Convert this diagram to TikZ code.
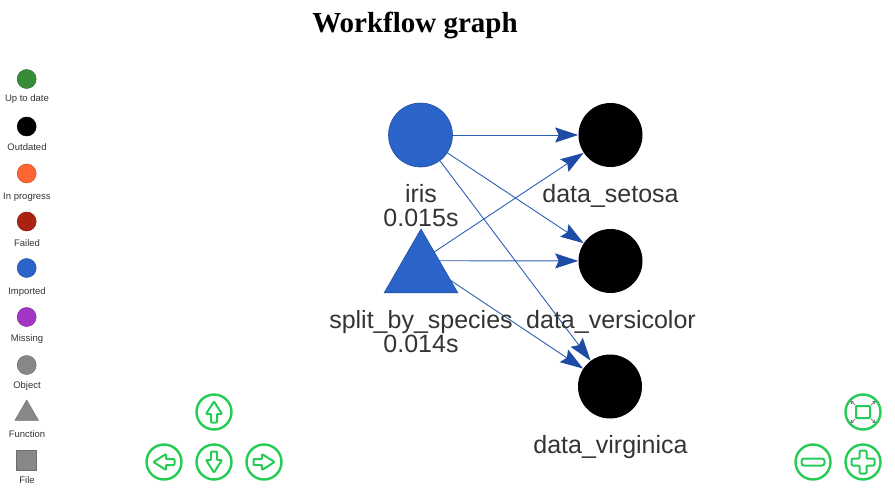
\documentclass[tikz,border=0pt]{standalone}
\usepackage{fontspec}
\setmainfont{Liberation Sans}
\newfontfamily\titlefont{Liberation Serif}
\usetikzlibrary{arrows.meta,shapes.geometric,backgrounds}
\definecolor{uptodate}{RGB}{55,140,55}
\definecolor{outdated}{RGB}{0,0,0}
\definecolor{inprog}{RGB}{255,102,51}
\definecolor{failed}{RGB}{170,34,17}
\definecolor{impblue}{RGB}{42,100,200}
\definecolor{missing}{RGB}{163,53,196}
\definecolor{objgray}{RGB}{136,136,136}
\definecolor{edgeblue}{RGB}{45,95,180}
\definecolor{headblue}{RGB}{30,75,165}
\definecolor{txt}{RGB}{52,52,52}
\definecolor{navgreen}{RGB}{36,204,84}
\definecolor{iconrgray}{RGB}{120,120,120}
\newcommand\navarrowicon[3]{%
  \draw[navline, shift={(#1,#2)}, rotate=#3]
    (0,-10.5) -- (8,2) -- (3,2) -- (3,10.5) -- (-3,10.5) -- (-3,2) -- (-8,2) -- cycle;}
\begin{document}
\begin{tikzpicture}[x=1pt,y=-1pt,
  obj/.style={circle, minimum size=64pt, inner sep=0pt, line width=0.6pt},
  lbl/.style={anchor=base, text=txt, font=\fontsize{25}{28}\selectfont, inner sep=0pt},
  legc/.style={circle, minimum size=19pt, inner sep=0pt, line width=0.5pt},
  legt/.style={anchor=base, text=txt, font=\fontsize{9.5}{11}\selectfont, inner sep=0pt},
  edge/.style={draw=edgeblue, line width=0.9pt,
    -{Stealth[length=23pt, width=15pt, inset=3.5pt, color=headblue, fill=headblue]}},
  navbtn/.style={circle, draw=navgreen, line width=2.4pt, minimum size=35pt, inner sep=0pt},
  navline/.style={draw=navgreen, line width=2pt, line join=round, rounded corners=0.8pt},
]
\useasboundingbox (0,0) rectangle (895,493);

% title
\node[anchor=base, inner sep=0pt, font=\titlefont\bfseries\fontsize{29}{33}\selectfont] (title) at (415,32) {Workflow graph};

% legend
\foreach \i/\y/\b/\c/\t in {1/79/101/uptodate/Up to date, 2/126.5/150/outdated/Outdated,
    3/173.5/199/inprog/In progress, 4/221.5/246/failed/Failed, 5/268/294/impblue/Imported,
    6/317/341/missing/Missing, 7/365/388/objgray/Object} {
  \node[legc, fill=\c, draw=\c!80!black] (leg\i) at (26.7,\y) {};
  \node[legt] (legt\i) at (27,\b) {\t};
}
\node[regular polygon, regular polygon sides=3, minimum size=27pt, inner sep=0pt,
      fill=objgray, draw=objgray!80!black, line width=0.5pt] (leg8) at (26.7,413.5) {};
\node[legt] (legt8) at (27,437) {Function};
\node[rectangle, minimum size=20pt, inner sep=0pt, fill=objgray, draw=objgray!80!black,
      line width=0.5pt] (leg9) at (26.3,460) {};
\node[legt] (legt9) at (27,483) {File};

% graph nodes
\node[obj, fill=impblue, draw=impblue!80!black] (iris) at (420.5,135) {};
\node[regular polygon, regular polygon sides=3, minimum size=85pt, inner sep=0pt,
      fill=impblue, draw=impblue!80!black, line width=0.6pt] (split) at (421,271.5) {};
\path (split.north) -- (split.south) coordinate[pos=0.5] (splitmid);
\node[obj, fill=black] (setosa) at (610.5,135) {};
\node[obj, fill=black] (versicolor) at (610.5,261) {};
\node[obj, fill=black] (virginica) at (610,386.5) {};

% labels
\node[lbl] (irisname) at (421,202) {iris};
\node[lbl] (iristime) at (421,226) {0.015s};
\node[lbl] (splitname) at (421,328) {split\_by\_species};
\node[lbl] (splittime) at (421,352) {0.014s};
\node[lbl] (setosaname) at (610.5,202) {data\_setosa};
\node[lbl] (versiname) at (611,328) {data\_versicolor};
\node[lbl] (virgname) at (610.5,453) {data\_virginica};

% edges
\begin{scope}[on background layer]
\draw[edge] (iris) -- (setosa);
\draw[edge] (iris) -- (versicolor);
\draw[edge] (iris) -- (virginica);
\draw[edge] (splitmid) -- (setosa);
\draw[edge] (splitmid) -- (versicolor);
\draw[edge] (splitmid) -- (virginica);
\end{scope}

% navigation buttons
\node[navbtn] (navup) at (214,412) {};
\node[navbtn] (navleft) at (164,462) {};
\node[navbtn] (navdown) at (214,462) {};
\node[navbtn] (navright) at (264,462) {};
\navarrowicon{214}{412}{0}
\navarrowicon{164}{462}{90}
\navarrowicon{214}{462}{180}
\navarrowicon{264}{462}{-90}

% zoom buttons
\node[navbtn] (navfit) at (863,412) {};
\node[navbtn] (navminus) at (813,462) {};
\node[navbtn] (navplus) at (863,462) {};
\draw[navline] (856,406) rectangle (870,418);
\foreach \sx/\sy in {1/1,1/-1,-1/1,-1/-1} {
  \draw[iconrgray, line width=0.8pt, -{Stealth[length=4pt,width=4pt]}]
    (863+\sx*8,412+\sy*7) -- (863+\sx*13,412+\sy*11.5);
}
\draw[navline, rounded corners=2.5pt] (801.5,458.5) rectangle (824.5,465.5);
\draw[navline, rounded corners=1pt] (859.5,450.5) -- (866.5,450.5) -- (866.5,458.5) -- (874.5,458.5)
  -- (874.5,465.5) -- (866.5,465.5) -- (866.5,473.5) -- (859.5,473.5) -- (859.5,465.5) -- (851.5,465.5)
  -- (851.5,458.5) -- (859.5,458.5) -- cycle;
\end{tikzpicture}
\end{document}
